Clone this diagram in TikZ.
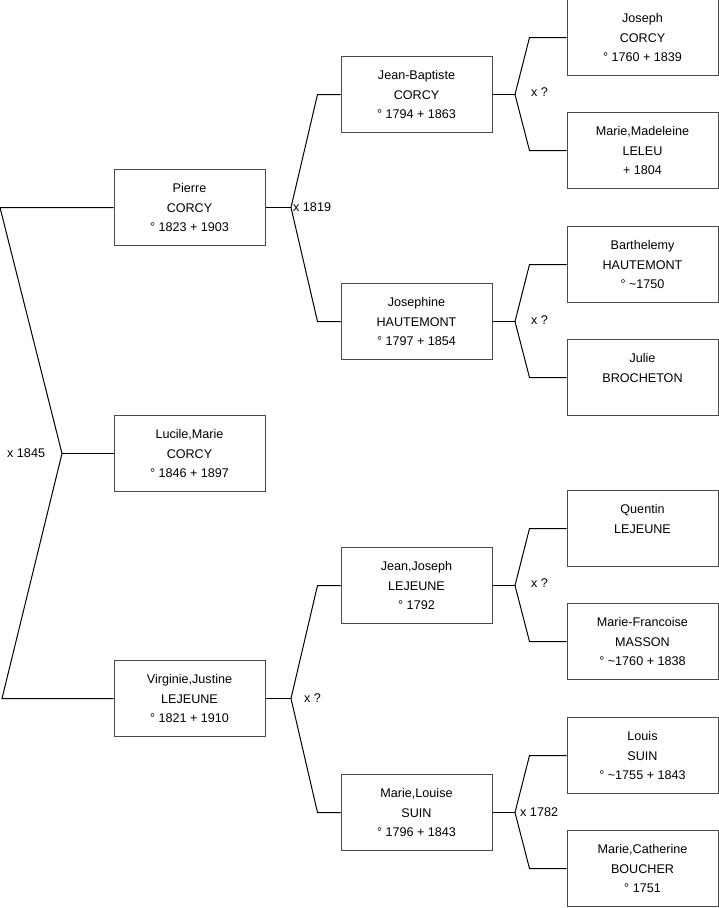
\documentclass[tikz,border=0pt]{standalone}
\usepackage{fontspec}
\setmainfont{Liberation Sans}
\definecolor{cadreGris}{HTML}{4A4A4A}
\tikzset{
  personne/.style={draw=cadreGris, line width=1pt, align=center, font=\fontsize{12.6}{19.5}\selectfont, minimum width=151pt, minimum height=76pt, inner sep=0pt},
  lien/.style={draw=black, line width=1pt},
  union/.style={font=\fontsize{12.6}{14}\selectfont, anchor=west, inner sep=0pt},
}

\begin{document}
\begin{tikzpicture}[x=1pt, y=-1pt]
\useasboundingbox (0,0) rectangle (719,908);
% generation 1
\node[personne] (pierre) at (189.5,207.5) {Pierre\\CORCY\\° 1823 + 1903};
\node[personne] (lucile) at (189.5,453.5) {Lucile,Marie\\CORCY\\° 1846 + 1897};
\node[personne] (virginie) at (189.5,698.5) {Virginie,Justine\\LEJEUNE\\° 1821 + 1910};
% generation 2
\node[personne] (jb) at (416.5,94.5) {Jean-Baptiste\\CORCY\\° 1794 + 1863};
\node[personne] (josephine) at (416.5,321.5) {Josephine\\HAUTEMONT\\° 1797 + 1854};
\node[personne] (jeanjoseph) at (416.5,585.5) {Jean,Joseph\\LEJEUNE\\° 1792};
\node[personne] (marielouise) at (416.5,812.5) {Marie,Louise\\SUIN\\° 1796 + 1843};
% generation 3
\node[personne] (joseph) at (642.5,37.5) {Joseph\\CORCY\\° 1760 + 1839};
\node[personne] (mariemadeleine) at (642.5,150.5) {Marie,Madeleine\\LELEU\\+ 1804};
\node[personne] (barthelemy) at (642.5,264.5) {Barthelemy\\HAUTEMONT\\° \textasciitilde1750};
\node[personne] (julie) at (642.5,377.5) {Julie\\BROCHETON\\\mbox{}};
\node[personne] (quentin) at (642.5,528.5) {Quentin\\LEJEUNE\\\mbox{}};
\node[personne] (mariefrancoise) at (642.5,641.5) {Marie-Francoise\\MASSON\\° \textasciitilde1760 + 1838};
\node[personne] (louis) at (642.5,755.5) {Louis\\SUIN\\° \textasciitilde1755 + 1843};
\node[personne] (mariecatherine) at (642.5,868.5) {Marie,Catherine\\BOUCHER\\° 1751};

% unions
\coordinate (haut0) at (0,207.5);
\coordinate (bas0) at (2,698.5);
\coordinate (c0) at (62,453.5);
\draw[lien] (pierre.west) -- (haut0) -- (c0) -- (bas0) -- (virginie.west);
\draw[lien] (c0) -- (lucile.west);
\node[union] at (7,453) {x 1845};

\coordinate (c1) at (291,207.5);
\draw[lien] (pierre.east) -- (c1);
\draw[lien] (jb.west) -- ++(-23,0) -- (c1) -- ([xshift=-23pt]josephine.west) -- (josephine.west);
\node[union] at (293,207) {x 1819};

\coordinate (c2) at (291,698.5);
\draw[lien] (virginie.east) -- (c2);
\draw[lien] (jeanjoseph.west) -- ++(-23,0) -- (c2) -- ([xshift=-23pt]marielouise.west) -- (marielouise.west);
\node[union] at (304,698) {x ?};

\coordinate (c3) at (515,94.5);
\draw[lien] (jb.east) -- (c3);
\draw[lien] (joseph.west) -- ++(-37,0) -- (c3) -- ([xshift=-37pt]mariemadeleine.west) -- (mariemadeleine.west);
\node[union] at (531,92) {x ?};

\coordinate (c4) at (515,321.5);
\draw[lien] (josephine.east) -- (c4);
\draw[lien] (barthelemy.west) -- ++(-37,0) -- (c4) -- ([xshift=-37pt]julie.west) -- (julie.west);
\node[union] at (531,320) {x ?};

\coordinate (c5) at (515,585.5);
\draw[lien] (jeanjoseph.east) -- (c5);
\draw[lien] (quentin.west) -- ++(-37,0) -- (c5) -- ([xshift=-37pt]mariefrancoise.west) -- (mariefrancoise.west);
\node[union] at (531,583) {x ?};

\coordinate (c6) at (515,812.5);
\draw[lien] (marielouise.east) -- (c6);
\draw[lien] (louis.west) -- ++(-37,0) -- (c6) -- ([xshift=-37pt]mariecatherine.west) -- (mariecatherine.west);
\node[union] at (520,812) {x 1782};
\end{tikzpicture}
\end{document}
